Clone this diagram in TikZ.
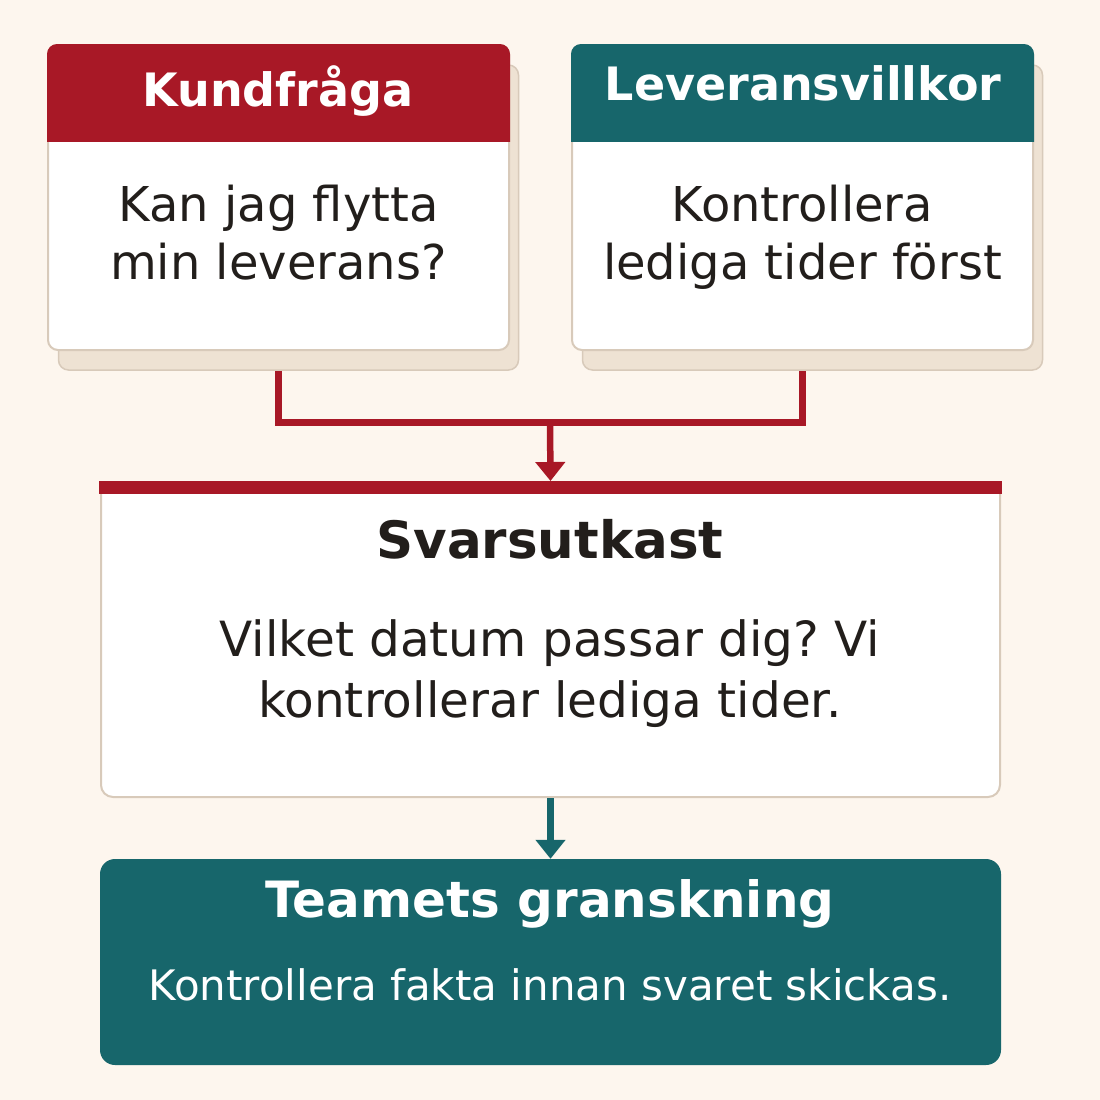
\documentclass[tikz,border=0pt]{standalone}
\usepackage{fontspec}
\setmainfont{DejaVu Sans}
\usetikzlibrary{calc,arrows.meta}
\definecolor{bg}{HTML}{FDF6EE}
\definecolor{brandred}{HTML}{A81826}
\definecolor{brandteal}{HTML}{17666B}
\definecolor{shadowfill}{HTML}{EEE2D3}
\definecolor{cardborder}{HTML}{D8CABA}
\definecolor{ink}{HTML}{221E1B}
\frenchspacing
\tikzset{
  shadowcard/.style={draw=cardborder, line width=1.5pt, fill=shadowfill, rounded corners=10pt, inner sep=0pt},
  card/.style={draw=cardborder, line width=2pt, fill=white, rounded corners=10pt, inner sep=0pt},
  headtext/.style={font=\bfseries\fontsize{46}{54}\selectfont, text=white, inner sep=0pt, anchor=base},
  bodytext/.style={font=\fontsize{48}{57}\selectfont, text=ink, inner sep=0pt, anchor=base},
  midtitle/.style={font=\bfseries\fontsize{51.5}{60}\selectfont, text=ink, inner sep=0pt, anchor=base},
  midbody/.style={font=\fontsize{48.5}{60}\selectfont, text=ink, inner sep=0pt, anchor=base},
  redline/.style={draw=brandred, line width=6.5pt},
  redarrow/.style={draw=brandred, line width=6.5pt, -{Triangle[width=29pt,length=19pt]}},
  tealarrow/.style={draw=brandteal, line width=6.5pt, -{Triangle[width=29pt,length=19pt]}},
}
\begin{document}
\begin{tikzpicture}[x=1pt,y=-1pt]
\fill[bg] (0,0) rectangle (1100,1100);
\useasboundingbox (0,0) rectangle (1100,1100);

% shadows
\node[shadowcard, minimum width=460pt, minimum height=305pt] (s1) at (288.5,217.5) {};
\node[shadowcard, minimum width=460pt, minimum height=305pt] (s2) at (812.5,217.5) {};

% cards
\node[card, minimum width=461pt, minimum height=305pt] (c1) at (278.5,197.5) {};
\node[card, minimum width=461pt, minimum height=305pt] (c2) at (802.5,197.5) {};

% headers
\begin{scope}
\clip[rounded corners=10pt] (c1.south west) rectangle (c1.north east);
\fill[brandred] ([shift={(-2,-2)}]c1.north west) rectangle ($(c1.north east)+(2,98)$);
\end{scope}
\begin{scope}
\clip[rounded corners=10pt] (c2.south west) rectangle (c2.north east);
\fill[brandteal] ([shift={(-2,-2)}]c2.north west) rectangle ($(c2.north east)+(2,98)$);
\end{scope}

\node[headtext] (h1) at (278,106) {Kundfråga};
\node[headtext] (h2) at (803,100) {Leveransvillkor};

\node[bodytext] (b1a) at (278.5,221.5) {Kan jag flytta};
\node[bodytext] (b1b) at (278.5,279) {min leverans?};
\node[bodytext] (b2a) at (802.5,221.5) {Kontrollera};
\node[bodytext] (b2b) at (802.5,279) {lediga tider först};

% middle box
\node[card, minimum width=899pt, minimum height=315pt, rounded corners=12pt] (mid) at (550.5,639.5) {};
\fill[brandred] ([shift={(-1,0)}]mid.north west) rectangle ($(mid.north east)+(1,13)$);
\node[midtitle] (mt) at (550,558) {Svarsutkast};
\node[midbody] (mb1) at (550,656) {Vilket datum passar dig? Vi};
\node[midbody] (mb2) at (550,717) {kontrollerar lediga tider.};

% connectors
\coordinate (j) at (550,422.5);
\draw[redline] (c1.south |- s1.south) |- (j) -| (c2.south |- s2.south);
\draw[redarrow] (j) -- (mid.north);

% bottom box
\node[fill=brandteal, rounded corners=15pt, minimum width=901pt, minimum height=206pt, inner sep=0pt] (rev) at (550.5,962) {};
\node[font=\bfseries\fontsize{50}{60}\selectfont, text=white, inner sep=0pt, anchor=base] (rt) at (550,917) {Teamets granskning};
\node[font=\fontsize{42}{50}\selectfont, text=white, inner sep=0pt, anchor=base] (rb) at (550,1000) {Kontrollera fakta innan svaret skickas.};

\draw[tealarrow] (mid.south) -- (rev.north);
\end{tikzpicture}
\end{document}
